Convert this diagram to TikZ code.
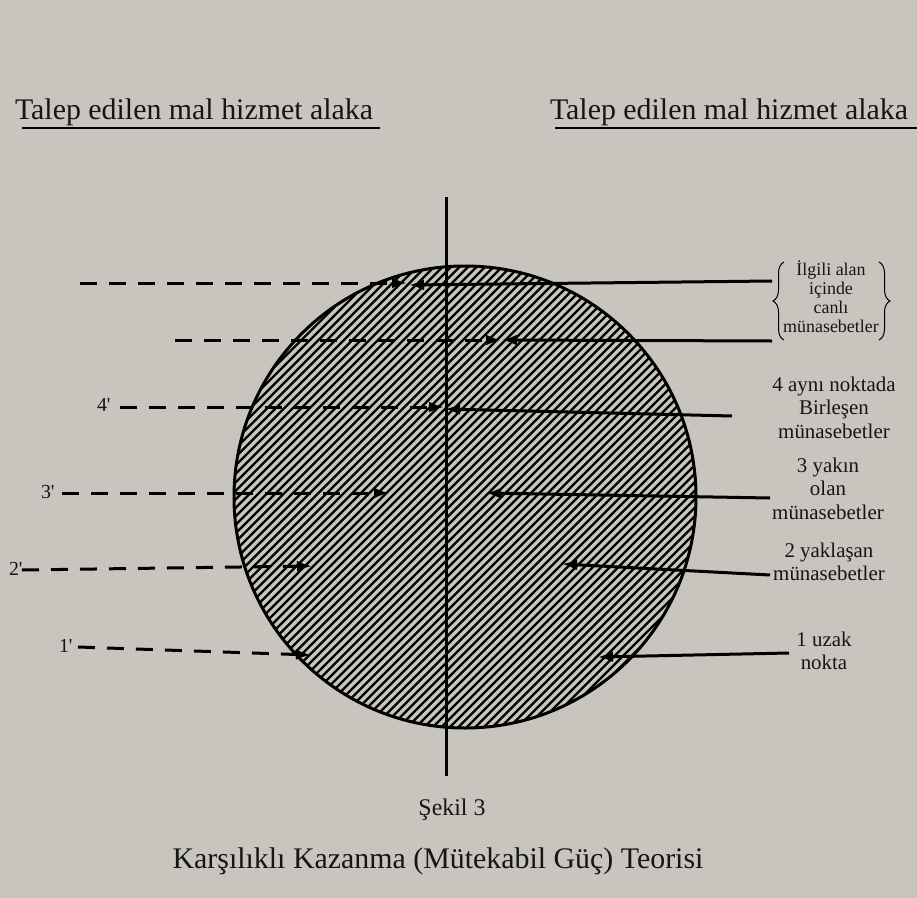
\documentclass[tikz,border=0pt]{standalone}
\usepackage{fontspec}
\setmainfont{Liberation Serif}
\usetikzlibrary{arrows.meta,decorations.pathreplacing}
\definecolor{paper}{HTML}{C8C5BE}
\definecolor{ink}{HTML}{151515}

\begin{document}
\begin{tikzpicture}[x=1bp,y=-1bp,
  every node/.style={text=ink, inner sep=0pt, outer sep=0pt},
  guide/.style={line width=3bp, dash pattern=on 17bp off 12bp,
    -{Latex[length=15bp,width=11bp]}},
  pointer/.style={line width=3bp, -{Latex[length=15bp,width=11bp]}},
  heading/.style={font=\fontsize{30}{34}\selectfont, anchor=base west},
  caption/.style={font=\fontsize{#1}{#1}\selectfont, anchor=base},
  note/.style={font=\fontsize{21}{23.5}\selectfont, align=center, anchor=north},
  smallnote/.style={font=\fontsize{18}{19}\selectfont, align=center, anchor=north},
  primelabel/.style={font=\fontsize{20}{22}\selectfont, anchor=base west},
  hatch/.style={line width=2.2bp, black},
]
% canvas
\fill[paper] (0,0) rectangle (917,898);
\useasboundingbox (0,0) rectangle (917,898);

% headings with underlines
\node[heading] (hl) at (15,119) {Talep edilen mal hizmet alaka};
\node[heading] (hr) at (550,119) {Talep edilen mal hizmet alaka};
\coordinate (ul1) at (22,128);  \coordinate (ul2) at (380,128);
\coordinate (ur1) at (555,128); \coordinate (ur2) at (917,128);
\draw[line width=2.5bp] (ul1) -- (ul2);
\draw[line width=2.5bp] (ur1) -- (ur2);

% hatched disc
\coordinate (c) at (465,497);
\begin{scope}
  \clip (c) circle[radius=231bp];
  \foreach \k in {0,...,125}
    \draw[hatch] ({-280+8.5*\k},760) -- ++(520,-520);
\end{scope}
\draw[line width=3bp] (c) circle[radius=231bp];

% vertical axis
\coordinate (axtop) at (446,197);
\coordinate (axbot) at (446,776);
\draw[line width=3bp] (axtop) -- (axbot);

% left side labels
\node[primelabel] (p4) at (97,411) {4\textquotesingle};
\node[primelabel] (p3) at (41,498) {3\textquotesingle};
\node[primelabel] (p2) at (9,575)  {2\textquotesingle};
\node[primelabel] (p1) at (59,652) {1\textquotesingle};

% dashed arrows from the left
\coordinate (la1) at (80,283);  \coordinate (lb1) at (407,283);
\coordinate (la2) at (175,340); \coordinate (lb2) at (501,340);
\coordinate (la3) at (120,407); \coordinate (lb3) at (444,407);
\coordinate (la4) at (62,493);  \coordinate (lb4) at (389,493);
\coordinate (la5) at (22,570);  \coordinate (lb5) at (312,566);
\coordinate (la6) at (78,647);  \coordinate (lb6) at (311,655);
\foreach \i in {1,...,6} \draw[guide] (la\i) -- (lb\i);

% right side notes
\node[smallnote] (n0) at (831,261) {İlgili alan\\içinde\\canlı\\münasebetler};
\coordinate (brL1) at (784,340); \coordinate (brL2) at (784,262);
\coordinate (brR1) at (879,262); \coordinate (brR2) at (879,340);
\draw[line width=1bp, decorate, decoration={brace, amplitude=11bp}] (brL1) -- (brL2);
\draw[line width=1bp, decorate, decoration={brace, amplitude=11bp}] (brR1) -- (brR2);

\node[note] (n4) at (834,377) {4 aynı noktada\\Birleşen\\münasebetler};
\node[note] (n3) at (828,458) {3 yakın\\olan\\münasebetler};
\node[note] (n2) at (829,543) {2 yaklaşan\\münasebetler};
\node[note] (n1) at (824,632) {1 uzak\\nokta};

% solid arrows from the right
\coordinate (ra1) at (772,281); \coordinate (rb1) at (409,285);
\coordinate (ra2) at (772,341); \coordinate (rb2) at (502,340);
\coordinate (ra3) at (732,416); \coordinate (rb3) at (445,409);
\coordinate (ra4) at (770,498); \coordinate (rb4) at (486,493);
\coordinate (ra5) at (770,575); \coordinate (rb5) at (562,564);
\coordinate (ra6) at (789,653); \coordinate (rb6) at (598,657);
\foreach \i in {1,...,6} \draw[pointer] (ra\i) -- (rb\i);

% captions
\node[caption=24] (fig) at (452,815) {Şekil 3};
\node[caption=30] (title) at (438,868) {Karşılıklı Kazanma (Mütekabil Güç) Teorisi};
\end{tikzpicture}
\end{document}
